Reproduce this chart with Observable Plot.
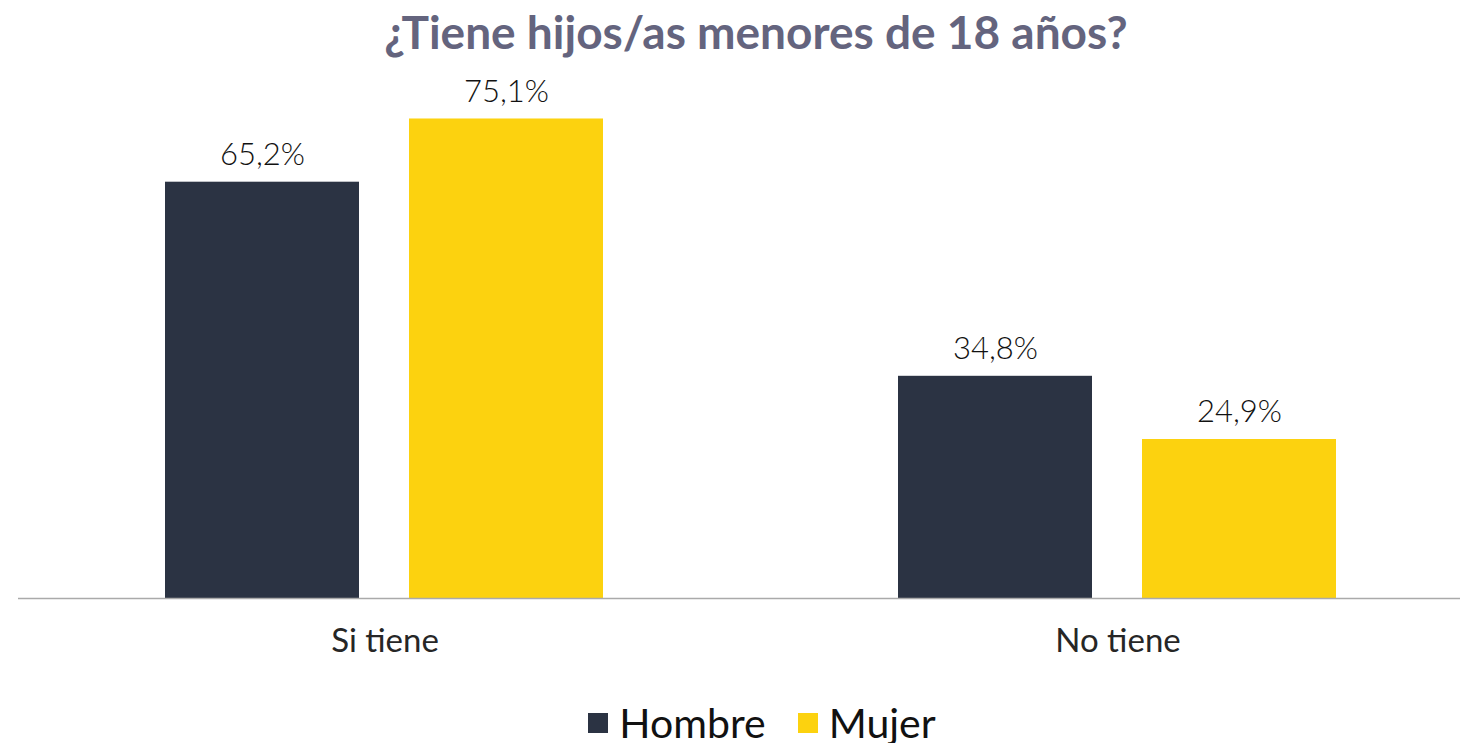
<!DOCTYPE html>
<html>
<head>
<meta charset="utf-8">
<script src="https://cdn.jsdelivr.net/npm/d3@7"></script>
<script src="https://cdn.jsdelivr.net/npm/@observablehq/plot@0.6"></script>
<style>
  html, body { margin: 0; padding: 0; background: #fff; overflow: hidden; width: 1460px; height: 743px; }
  #title { box-sizing: border-box; padding-left: 52px; height: 70px; line-height: 64px; text-align: center; font-family: Lato, sans-serif; font-weight: 700; font-size: 46px; color: #64647e; width: 1460px; }
  #chart { width: 1460px; overflow: hidden; }
  #chart svg { display: block; max-width: none !important; }
  #legend { box-sizing: border-box; display: flex; justify-content: center; width: 1460px; padding-top: 8px; padding-left: 96px; }
  #legend svg { margin-right: 11px !important; }
  #legend [class$="-swatch"] { margin-right: 32px !important; }
</style>
</head>
<body>
<div id="title">¿Tiene hijos/as menores de 18 años?</div>
<div id="chart"></div>
<div id="legend"></div>
<script>
const categories = ["Si tiene", "No tiene"];
const genders = ["Hombre", "Mujer"];
const hombre = [65.2, 34.8];
const mujer = [75.1, 24.9];
const colors = ["#2b3343", "#fcd20f"];

const data = [];
categories.forEach((c, i) => {
  data.push({cat: c, gender: "Hombre", value: hombre[i]});
  data.push({cat: c, gender: "Mujer", value: mujer[i]});
});
const fmt = v => v.toFixed(1).replace(".", ",") + "%";

const plot = Plot.plot({
  width: 1484,
  height: 620,
  marginLeft: 18,
  marginRight: 0,
  marginTop: 17.2,
  marginBottom: 92,
  style: {fontFamily: "Lato, sans-serif", fontSize: "33px", color: "#262626", background: "#fff", maxWidth: "none"},
  fx: {domain: categories, padding: 0, axis: "bottom", tickSize: 0, tickPadding: 30, label: null},
  x: {domain: genders, paddingInner: 0.204, paddingOuter: 0.598, axis: null},
  y: {domain: [0, 80], axis: null},
  color: {domain: genders, range: colors},
  marks: [
    Plot.barY(data, {fx: "cat", x: "gender", y: "value", fill: "gender"}),
    Plot.ruleY([0], {stroke: "#aaaaaa", strokeWidth: 1.5}),
    Plot.text(data, {fx: "cat", x: "gender", y: "value", text: d => fmt(d.value), dy: -27, fontSize: 31, fontWeight: 300, fill: "#111"})
  ]
});
document.getElementById("chart").appendChild(plot);

const leg = plot.legend("color", {swatchSize: 20, style: {fontFamily: "Lato, sans-serif", fontSize: "41px", color: "#111"}});
document.getElementById("legend").appendChild(leg);
</script>
</body>
</html>
